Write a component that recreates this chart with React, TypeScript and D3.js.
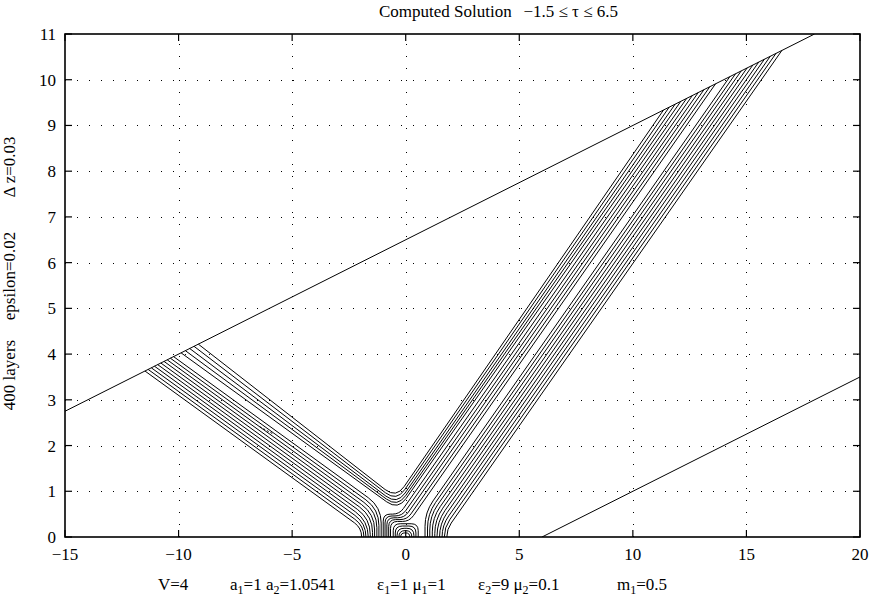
import React from 'react';
import * as d3 from 'd3';

const W = 876;
const H = 601;
const PLOT = { left: 65, right: 860, top: 34, bottom: 537 };

const xDomain = [-15, 20];
const yDomain = [0, 11];
const xTicks = [-15, -10, -5, 0, 5, 10, 15, 20];
const yTicks = [0, 1, 2, 3, 4, 5, 6, 7, 8, 9, 10, 11];
const xGrid = [-10, -5, 0, 5, 10, 15];
const yGrid = [1, 2, 3, 4, 5, 6, 7, 8, 9, 10];

// boundary characteristics (tau = 6.5 and tau = -1.5)
const upperBoundaryX = [-15, 18];
const upperBoundaryY = [2.75, 11];
const lowerBoundaryX = [6, 20];
const lowerBoundaryY = [0, 3.5];

// left-going band (lower group) : where lines meet the upper boundary / the z-axis
const leftBandTopX = [-11.48, -11.34, -11.2, -11.06, -10.92, -10.78, -10.64, -10.5, -10.36, -10.22];
const leftBandBottomX = [-1.94, -1.84, -1.75, -1.65, -1.56, -1.46, -1.37, -1.27, -1.18, -1.08];
const leftBandSlope = -0.36;

// V-shaped contours (left arm top, right arm top, vertex)
const vLeftTopX = [-9.13, -9.32, -9.51, -9.7, -9.89];
const vRightTopX = [11.35, 11.6, 11.86, 12.11, 12.37];
const vVertexX = [-0.42, -0.4, -0.38, -0.36, -0.34];
const vVertexY = [0.85, 0.78, 0.71, 0.65, 0.59];

// right-arm contours that hook over the source
const hookTopX = [12.62, 12.88, 13.13, 13.39, 13.64];
const hookLevelY = [0.5, 0.46, 0.42, 0.38, 0.34];
const hookBottomX = [-0.99, -0.91, -0.83, -0.75, -0.67];

// right-going band (outer group)
const rightBandTopX = [14.27, 14.52, 14.77, 15.03, 15.28, 15.54, 15.79, 16.05, 16.3, 16.56];
const rightBandBottomX = [0.85, 0.96, 1.06, 1.17, 1.28, 1.38, 1.49, 1.6, 1.7, 1.81];
const rightSlope = 0.71;

// closed arches at the source
const archLeftX = [-0.55, -0.46, -0.38, -0.3, -0.22];
const archRightX = [0.55, 0.45, 0.36, 0.27, 0.18];
const archTopY = [0.29, 0.24, 0.19, 0.14, 0.09];

// small contour fragment
const fragX = [-6.42, -5.86];
const fragY = [2.41, 2.26];

const x = d3.scaleLinear().domain(xDomain).range([PLOT.left, PLOT.right]);
const y = d3.scaleLinear().domain(yDomain).range([PLOT.bottom, PLOT.top]);

const upperY = (xv: number) =>
  upperBoundaryY[0] + ((xv - upperBoundaryX[0]) * (upperBoundaryY[1] - upperBoundaryY[0])) / (upperBoundaryX[1] - upperBoundaryX[0]);

type P = [number, number];

function roundedPath(ptsData: P[], r: number): string {
  const pts: P[] = ptsData.map(([a, b]) => [x(a), y(b)]);
  const p = d3.path();
  p.moveTo(pts[0][0], pts[0][1]);
  for (let i = 1; i < pts.length - 1; i++) {
    const [x0, y0] = pts[i - 1];
    const [x1, y1] = pts[i];
    const [x2, y2] = pts[i + 1];
    const l1 = Math.hypot(x1 - x0, y1 - y0);
    const l2 = Math.hypot(x2 - x1, y2 - y1);
    const rr = Math.min(r, i === 1 ? l1 : l1 / 2, i === pts.length - 2 ? l2 : l2 / 2);
    const ax = x1 - ((x1 - x0) / l1) * rr;
    const ay = y1 - ((y1 - y0) / l1) * rr;
    const bx = x1 + ((x2 - x1) / l2) * rr;
    const by = y1 + ((y2 - y1) / l2) * rr;
    p.lineTo(ax, ay);
    p.quadraticCurveTo(x1, y1, bx, by);
  }
  const last = pts[pts.length - 1];
  p.lineTo(last[0], last[1]);
  return p.toString();
}

function buildContours(): string[] {
  const out: string[] = [];
  leftBandTopX.forEach((tx, i) => {
    const ty = upperY(tx);
    const xb = leftBandBottomX[i];
    const ky = ty + leftBandSlope * (xb - tx);
    out.push(roundedPath([[tx, ty], [xb, ky], [xb, 0]], 16));
  });
  vLeftTopX.forEach((lx, i) => {
    const rx = vRightTopX[i];
    out.push(roundedPath([[lx, upperY(lx)], [vVertexX[i], vVertexY[i]], [rx, upperY(rx)]], 14));
  });
  hookTopX.forEach((tx, i) => {
    const ty = upperY(tx);
    const ly = hookLevelY[i];
    const kx = tx - (ty - ly) / rightSlope;
    out.push(roundedPath([[tx, ty], [kx, ly], [hookBottomX[i], ly], [hookBottomX[i], 0]], 7));
  });
  rightBandTopX.forEach((tx, i) => {
    const ty = upperY(tx);
    const xb = rightBandBottomX[i];
    const ky = ty + rightSlope * (xb - tx);
    out.push(roundedPath([[tx, ty], [xb, ky], [xb, 0]], 14));
  });
  archLeftX.forEach((lx, i) => {
    out.push(roundedPath([[lx, 0], [lx, archTopY[i]], [archRightX[i], archTopY[i]], [archRightX[i], 0]], 7));
  });
  return out;
}

type Tok = [string, boolean];
const annotations: { x: number; toks: Tok[] }[] = [
  { x: 158, toks: [['V=4', false]] },
  { x: 230, toks: [['a', false], ['1', true], ['=1 a', false], ['2', true], ['=1.0541', false]] },
  { x: 377, toks: [['ε', false], ['1', true], ['=1 μ', false], ['1', true], ['=1', false]] },
  { x: 478, toks: [['ε', false], ['2', true], ['=9 μ', false], ['2', true], ['=0.1', false]] },
  { x: 617, toks: [['m', false], ['1', true], ['=0.5', false]] },
];

const yLabels = [
  { text: '400 layers', cy: 375 },
  { text: 'epsilon=0.02', cy: 276 },
  { text: 'Δ z=0.03', cy: 167 },
];

const FONT = "'Liberation Serif', 'Times New Roman', serif";

export default function App() {
  const contours = buildContours();
  const tickLen = 7;
  return (
    <svg width={W} height={H} style={{ position: 'absolute', left: 0, top: 0, background: '#fff' }} fontFamily={FONT}>
      <rect x={0} y={0} width={W} height={H} fill="#fff" />
      <g stroke="#000" strokeWidth={1} strokeDasharray="1 11">
        {xGrid.map((g) => (
          <line key={'gx' + g} x1={Math.round(x(g)) + 0.5} x2={Math.round(x(g)) + 0.5} y1={PLOT.bottom} y2={PLOT.top} />
        ))}
        {yGrid.map((g) => (
          <line key={'gy' + g} x1={PLOT.left} x2={PLOT.right} y1={Math.round(y(g)) + 0.5} y2={Math.round(y(g)) + 0.5} />
        ))}
      </g>
      <defs>
        <clipPath id="plotclip">
          <rect x={PLOT.left} y={PLOT.top} width={PLOT.right - PLOT.left} height={PLOT.bottom - PLOT.top} />
        </clipPath>
      </defs>
      <g clipPath="url(#plotclip)" fill="none" stroke="#000" strokeWidth={1}>
        <line x1={x(upperBoundaryX[0])} y1={y(upperBoundaryY[0])} x2={x(upperBoundaryX[1])} y2={y(upperBoundaryY[1])} />
        <line x1={x(lowerBoundaryX[0])} y1={y(lowerBoundaryY[0])} x2={x(lowerBoundaryX[1])} y2={y(lowerBoundaryY[1])} />
        {contours.map((d, i) => (
          <path key={i} d={d} />
        ))}
        <line x1={x(fragX[0])} y1={y(fragY[0])} x2={x(fragX[1])} y2={y(fragY[1])} strokeDasharray="2 2" />
      </g>
      <rect x={PLOT.left} y={PLOT.top} width={PLOT.right - PLOT.left} height={PLOT.bottom - PLOT.top} fill="none" stroke="#000" strokeWidth={1.6} />
      <g stroke="#000" strokeWidth={1.2}>
        {xTicks.map((t) => (
          <g key={'tx' + t}>
            <line x1={x(t)} x2={x(t)} y1={PLOT.bottom} y2={PLOT.bottom - tickLen} />
            <line x1={x(t)} x2={x(t)} y1={PLOT.top} y2={PLOT.top + tickLen} />
          </g>
        ))}
        {yTicks.map((t) => (
          <g key={'ty' + t}>
            <line x1={PLOT.left} x2={PLOT.left + tickLen} y1={y(t)} y2={y(t)} />
            <line x1={PLOT.right} x2={PLOT.right - tickLen} y1={y(t)} y2={y(t)} />
          </g>
        ))}
      </g>
      <g fontSize={17} fill="#000">
        {xTicks.map((t) => (
          <text key={'lx' + t} x={x(t)} y={560} textAnchor="middle">
            {t < 0 ? '\u2212' + Math.abs(t) : String(t)}
          </text>
        ))}
        {yTicks.map((t) => (
          <text key={'ly' + t} x={56} y={y(t) + 6} textAnchor="end">
            {t}
          </text>
        ))}
        <text x={379} y={17}>Computed Solution</text>
        <text x={618} y={17} textAnchor="end">{'\u22121.5 \u2264 \u03c4 \u2264 6.5'}</text>
        {annotations.map((a, i) => (
          <text key={'an' + i} x={a.x} y={590}>
            {a.toks.map(([s, sub], j) => (
              <tspan key={j} fontSize={sub ? 12 : 17} dy={sub ? 4 : j > 0 && a.toks[j - 1][1] ? -4 : 0}>
                {s}
              </tspan>
            ))}
          </text>
        ))}
        {yLabels.map((l, i) => (
          <text key={'yl' + i} transform={`translate(15,${l.cy}) rotate(-90)`} textAnchor="middle">
            {l.text}
          </text>
        ))}
      </g>
    </svg>
  );
}
